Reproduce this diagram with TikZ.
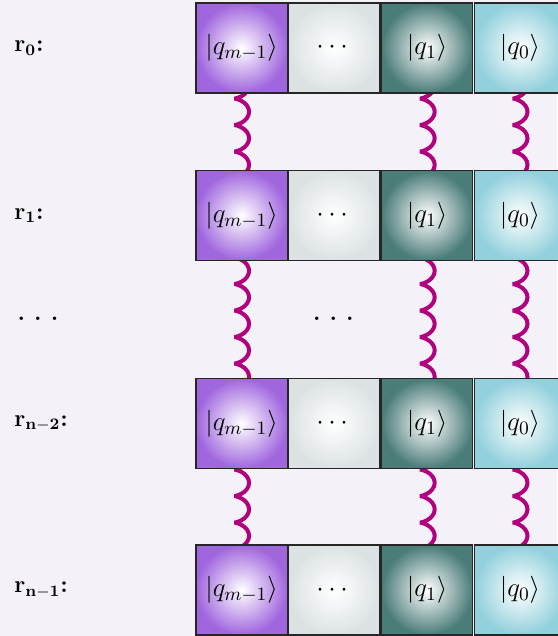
\RequirePackage{fix-cm}
\documentclass[tikz,border=0pt]{standalone}
\usepackage{amsmath}
\usepackage{xcolor}
\usetikzlibrary{decorations.pathmorphing}
\usetikzlibrary{backgrounds}

\definecolor{bgpaper}{RGB}{244,242,248}
\definecolor{qpurple}{RGB}{160,102,222}
\definecolor{qgrey}{RGB}{220,226,228}
\definecolor{qteal}{RGB}{74,124,120}
\definecolor{qcyan}{RGB}{146,208,220}
\definecolor{linkpink}{RGB}{176,0,126}

\newcommand{\qfont}{\fontsize{13.5}{16}\selectfont}
\newcommand{\regfont}{\fontsize{12}{14}\selectfont}

\tikzset{
	qbit/.style={draw=black!85, line width=0.6pt, minimum width=45.6pt, minimum height=45pt,
		inner sep=0pt, outer sep=0pt, font=\qfont},
	qm/.style={qbit, inner color=white, outer color=qpurple},
	qdots/.style={qbit, inner color=white, outer color=qgrey},
	qone/.style={qbit, inner color=white, outer color=qteal},
	qzero/.style={qbit, inner color=white, outer color=qcyan},
	reg/.style={anchor=west, inner sep=0pt, font=\regfont},
	link/.style={draw=linkpink, line width=2pt, decorate,
		decoration={coil, aspect=0.56, segment length=13.25pt, amplitude=3.75pt}}
}

\begin{document}
\begin{tikzpicture}[x=0.5pt, y=-0.5pt]
	\useasboundingbox (0,0) rectangle (557,636);
	
	% register r_0
	\node[reg] (lab0) at (14,48) {$\mathbf{r_0}$\textbf{:}};
	\node[qm] (r0m) at (241.6,48) {$|q_{m-1}\rangle$};
	\node[qdots] (r0d) at (334.4,48) {$\cdots$};
	\node[qone] (r0one) at (427.2,48) {$|q_1\rangle$};
	\node[qzero] (r0zero) at (520,48) {$|q_0\rangle$};
	
	% register r_1
	\node[reg] (lab1) at (14,215.5) {$\mathbf{r_1}$\textbf{:}};
	\node[qm] (r1m) at (241.6,215.5) {$|q_{m-1}\rangle$};
	\node[qdots] (r1d) at (334.4,215.5) {$\cdots$};
	\node[qone] (r1one) at (427.2,215.5) {$|q_1\rangle$};
	\node[qzero] (r1zero) at (520,215.5) {$|q_0\rangle$};
	
	% skipped registers
	\node[font=\regfont] (skipl) at (38,319) {\textbf{.\ .\ .}};
	\node[font=\regfont] (skipm) at (333.3,319) {\textbf{.\ .\ .}};
	
	% register r_{n-2}
	\node[reg] (lab2) at (14,423.5) {$\mathbf{r_{n-2}}$\textbf{:}};
	\node[qm] (r2m) at (241.6,423.5) {$|q_{m-1}\rangle$};
	\node[qdots] (r2d) at (334.4,423.5) {$\cdots$};
	\node[qone] (r2one) at (427.2,423.5) {$|q_1\rangle$};
	\node[qzero] (r2zero) at (520,423.5) {$|q_0\rangle$};
	
	% register r_{n-1}
	\node[reg] (lab3) at (14,590) {$\mathbf{r_{n-1}}$\textbf{:}};
	\node[qm] (r3m) at (241.6,590) {$|q_{m-1}\rangle$};
	\node[qdots] (r3d) at (334.4,590) {$\cdots$};
	\node[qone] (r3one) at (427.2,590) {$|q_1\rangle$};
	\node[qzero] (r3zero) at (520,590) {$|q_0\rangle$};
	
	% couplings, running behind the boxes
	\begin{scope}[on background layer]
		\fill[bgpaper] (0,0) rectangle (557,636);
		\draw[link] (r0m.center) -- (r3m.center);
		\draw[link] (r0one.center) -- (r3one.center);
		\draw[link] (r0zero.center) -- (r3zero.center);
	\end{scope}
\end{tikzpicture}
\end{document}
